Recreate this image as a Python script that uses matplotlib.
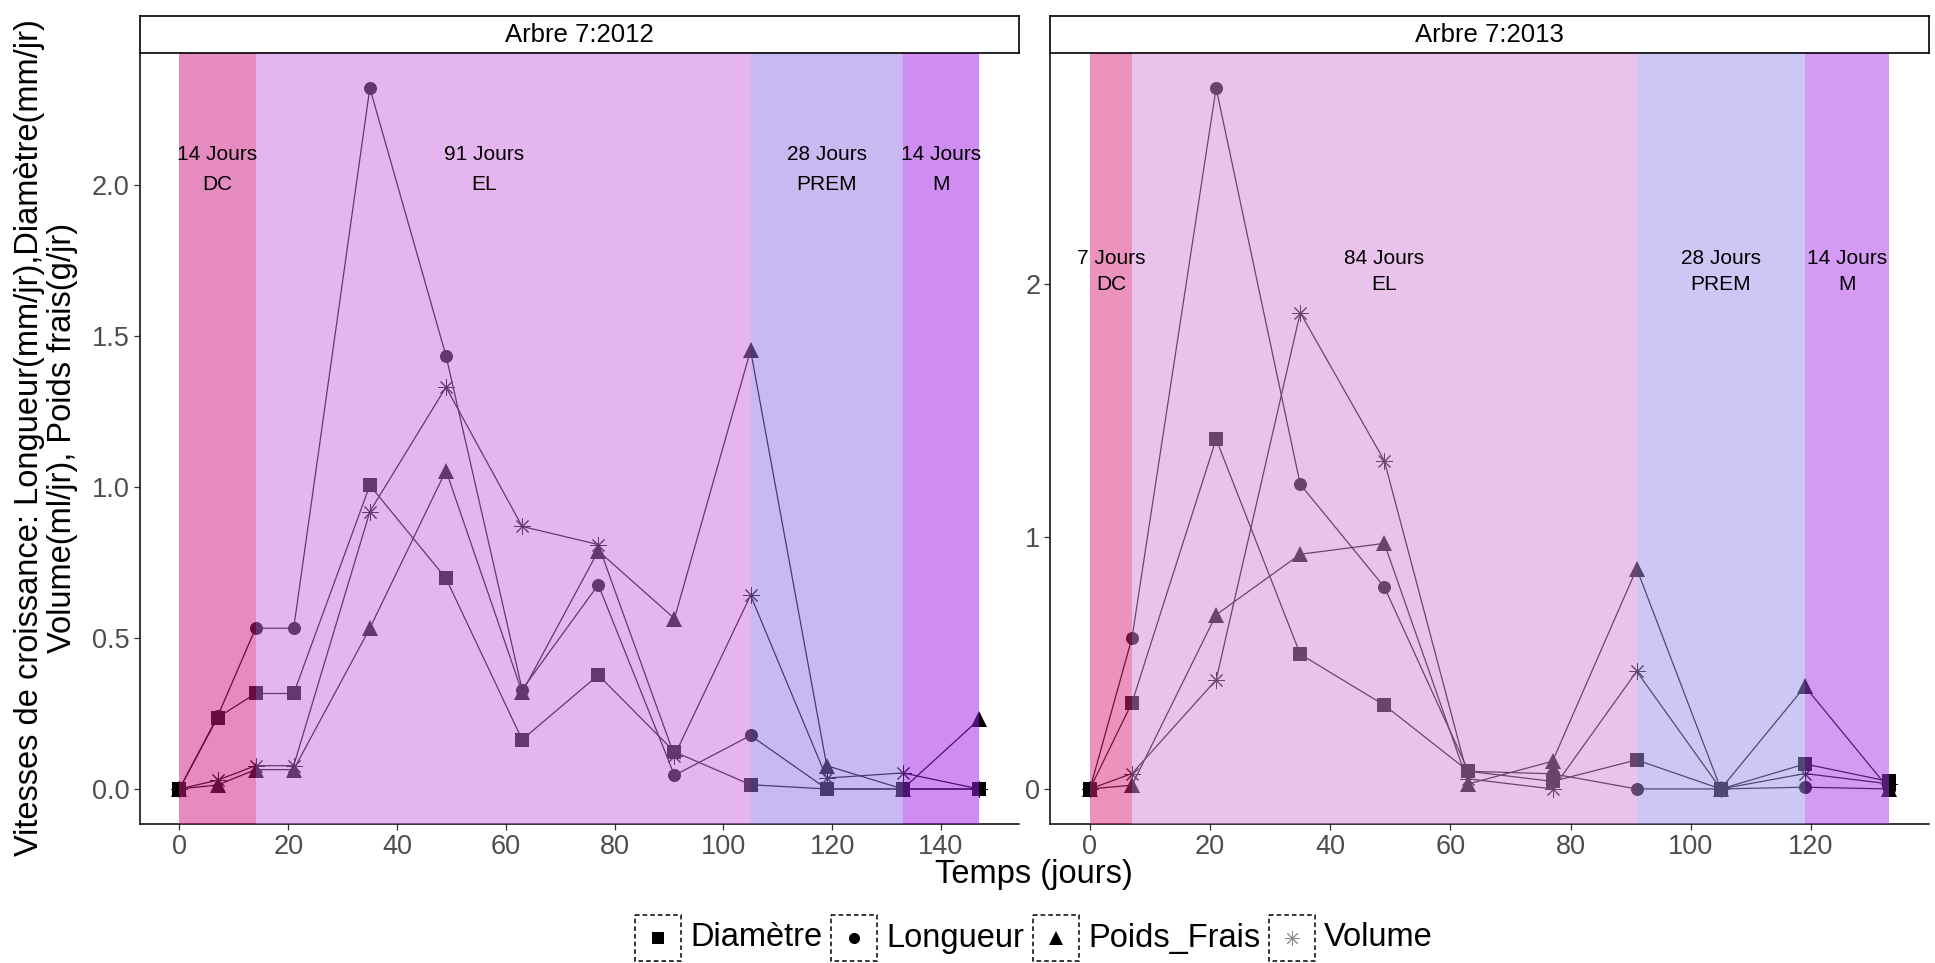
import matplotlib
matplotlib.use("Agg")
import matplotlib.pyplot as plt
from matplotlib.patches import Rectangle

W, H = 1935, 963
plt.rcParams['font.family'] = ['Liberation Sans', 'DejaVu Sans']

# ---------------- data ----------------
days_2012 = [0, 7, 14, 21, 35, 49, 63, 77, 91, 105, 119, 133, 147]
diametre_2012 = [0, 0.236, 0.316, 0.316, 1.005, 0.697, 0.163, 0.377, 0.123, 0.014, 0.0, 0.0, 0.0]
longueur_2012 = [0, 0.24, 0.532, 0.532, 2.32, 1.434, 0.329, 0.676, 0.045, 0.177, 0.0, 0.0, 0.0]
poids_2012 = [0, 0.013, 0.064, 0.064, 0.532, 1.054, 0.32, 0.788, 0.564, 1.452, 0.077, 0.0, 0.23]
volume_2012 = [0, 0.029, 0.077, 0.077, 0.918, 1.33, 0.869, 0.809, 0.11, 0.641, 0.036, 0.053, 0.0]

days_2013 = [0, 7, 21, 35, 49, 63, 77, 91, 105, 119, 133]
diametre_2013 = [0, 0.342, 1.386, 0.534, 0.332, 0.07, 0.03, 0.115, 0.0, 0.099, 0.03]
longueur_2013 = [0, 0.599, 2.777, 1.207, 0.80, 0.07, 0.06, 0.0, 0.0, 0.007, 0.0]
poids_2013 = [0, 0.015, 0.69, 0.93, 0.973, 0.02, 0.11, 0.873, 0.0, 0.406, 0.0]
volume_2013 = [0, 0.061, 0.432, 1.887, 1.30, 0.04, 0.0, 0.466, 0.0, 0.061, 0.02]

phase_names = ["DC", "EL", "PREM", "M"]
phase_bounds_2012 = [0, 14, 105, 133, 147]
phase_days_2012 = [14, 91, 28, 14]
phase_label_x_2012 = [7, 56, 119, 140]
phase_bounds_2013 = [0, 7, 91, 119, 133]
phase_days_2013 = [7, 84, 28, 14]
phase_label_x_2013 = [3.5, 49, 105, 126]

series_names = ["Diamètre", "Longueur", "Poids_Frais", "Volume"]
y_ticks_2012 = [0.0, 0.5, 1.0, 1.5, 2.0]
y_ticks_2013 = [0, 1, 2]
x_ticks = [0, 20, 40, 60, 80, 100, 120, 140]

# ---------------- styles ----------------
band_colors_2012 = ["#CD1980", "#CB6DDE", "#9277E5", "#A01DE5"]
band_colors_2013 = ["#D9297A", "#D589D9", "#9D91EC", "#AB37EB"]
band_alpha = 0.5
markers = {
    "Diamètre": dict(marker="s", ms=9.8, mew=0),
    "Longueur": dict(marker="o", ms=9.4, mew=0),
    "Poids_Frais": dict(marker="^", ms=11.2, mew=0),
    "Volume": dict(marker=(8, 2, 0), ms=12, mew=0.7),
}

fig = plt.figure(figsize=(W / 100, H / 100), dpi=100)


def px_axes(x0, y0, x1, y1, **kw):
    return fig.add_axes([x0 / W, 1 - y1 / H, (x1 - x0) / W, (y1 - y0) / H], **kw)


def draw_panel(box, strip_box, title, days, series, bounds, durations, label_x,
               band_colors, yticks, yfmt):
    ax = px_axes(*box)
    for name, vals in zip(series_names, series):
        ax.plot(days, vals, color="black", lw=0.9, zorder=2)
        ax.plot(days, vals, linestyle="none", color="black", zorder=2.5,
                **markers[name])
    for i in range(4):
        ax.axvspan(bounds[i], bounds[i + 1], color=band_colors[i],
                   alpha=band_alpha, lw=0, zorder=3)
    for i in range(4):
        ax.text(label_x[i], 2.1, f"{durations[i]} Jours", ha="center",
                va="center", fontsize=15, color="black", zorder=5)
        ax.text(label_x[i], 2.0, phase_names[i], ha="center", va="center",
                fontsize=15, color="black", zorder=5)

    allv = [v for s in series for v in s]
    ymin, ymax = min(allv), max(allv)
    dy = (ymax - ymin) * 0.05
    xmin, xmax = min(days), max(days)
    dx = (xmax - xmin) * 0.05
    lo_x, hi_x = xmin - dx, xmax + dx

    ax.set_xticks([t for t in x_ticks if lo_x <= t <= hi_x])
    ax.set_yticks(yticks)
    ax.set_yticklabels([yfmt.format(t) for t in yticks])
    ax.set_xlim(lo_x, hi_x)
    ax.set_ylim(ymin - dy, ymax + dy)
    for s in ["top", "right"]:
        ax.spines[s].set_visible(False)
    for s in ["left", "bottom"]:
        ax.spines[s].set_color("black")
        ax.spines[s].set_linewidth(1.1)
    ax.tick_params(direction="out", length=4, width=0.9, color="#333333",
                   labelcolor="#4D4D4D", labelsize=19.5, pad=3)

    sax = px_axes(*strip_box)
    sax.set_xticks([])
    sax.set_yticks([])
    for s in sax.spines.values():
        s.set_color("black")
        s.set_linewidth(1.2)
    sax.text(0.5, 0.5, title, ha="center", va="center", fontsize=18.5,
             transform=sax.transAxes)
    return ax


draw_panel((139.5, 53, 1019, 824), (139.5, 16, 1019, 53), "Arbre 7:2012",
           days_2012, [diametre_2012, longueur_2012, poids_2012, volume_2012],
           phase_bounds_2012, phase_days_2012, phase_label_x_2012,
           band_colors_2012, y_ticks_2012, "{:.1f}")
draw_panel((1050, 53, 1929, 824), (1050, 16, 1929, 53), "Arbre 7:2013",
           days_2013, [diametre_2013, longueur_2013, poids_2013, volume_2013],
           phase_bounds_2013, phase_days_2013, phase_label_x_2013,
           band_colors_2013, y_ticks_2013, "{:d}")

# axis titles
fig.text(46 / W, 1 - 438 / H,
         "Vitesses de croissance: Longueur(mm/jr),Diamètre(mm/jr)\n"
         "Volume(ml/jr), Poids frais(g/jr)",
         rotation=90, ha="center", va="center", fontsize=23.5,
         linespacing=1.1, multialignment="center")
fig.text(1034 / W, 1 - 874 / H, "Temps (jours)", ha="center", va="center",
         fontsize=23.5)

# legend drawn in pixel space
lax = fig.add_axes([0, 0, 1, 1], zorder=-1)
lax.set_xlim(0, W)
lax.set_ylim(H, 0)
lax.axis("off")
fig.canvas.draw()
renderer = fig.canvas.get_renderer()

key = 46
gap = 9
cy = 938
texts = []
widths = []
for name in series_names:
    t = lax.text(0, cy, name, fontsize=23.5, ha="left", va="center")
    bb = t.get_window_extent(renderer=renderer)
    texts.append(t)
    widths.append(bb.width)
total = sum(key + gap + w for w in widths) + gap * (len(widths) - 1)
x = 1034 - total / 2
for name, t, w in zip(series_names, texts, widths):
    lax.add_patch(Rectangle((x, cy - key / 2), key, key, fill=False,
                            edgecolor="black", lw=1.1, ls=(0, (3, 2))))
    style = dict(markers[name])
    col = "#8C8C8C" if name == "Volume" else "black"
    style["ms"] = style["ms"] * 0.85
    lax.plot([x + key / 2], [cy], linestyle="none", color=col, **style)
    t.set_x(x + key + gap)
    x += key + gap + w + gap

fig.savefig("out.png", dpi=100)
